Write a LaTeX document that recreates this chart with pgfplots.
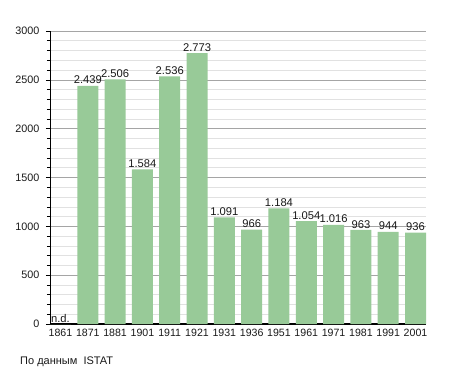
\documentclass[border=0pt]{standalone}
\usepackage{fontspec}
\setmainfont{Liberation Sans}
\usepackage{pgfplots}
\pgfplotsset{compat=1.18}
\usepackage{pgfplotstable}
\definecolor{bargreen}{RGB}{152,202,152}
\definecolor{majgrid}{RGB}{165,165,165}
\definecolor{mingrid}{RGB}{225,225,225}
\definecolor{txt}{RGB}{25,25,25}
\pgfplotstableread{
x y lab
0 0 n.d.
1 2439 2.439
2 2506 2.506
3 1584 1.584
4 2536 2.536
5 2773 2.773
6 1091 1.091
7 966 966
8 1184 1.184
9 1054 1.054
10 1016 1.016
11 963 963
12 944 944
13 936 936
}\data
\begin{document}
\begin{tikzpicture}[x=1pt,y=1pt]
\path[use as bounding box] (0,0) rectangle (455,373);
\begin{axis}[
  at={(50pt,49pt)}, anchor=south west,
  scale only axis, width=376pt, height=293pt,
  xmin=0, xmax=13.768, ymin=0, ymax=3000,
  axis x line*=bottom, axis y line*=left,
  x axis line style={black, line width=1.2pt},
  y axis line style={black, line width=0.8pt},
  xtick=data,
  xticklabels={1861,1871,1881,1901,1911,1921,1931,1936,1951,1961,1971,1981,1991,2001},
  x tick style={draw=none},
  ytick={0,500,...,3000},
  minor y tick num=4,
  ymajorgrids, yminorgrids,
  major grid style={majgrid, line width=0.6pt},
  minor grid style={mingrid, line width=0.6pt},
  tick align=outside,
  major tick length=4pt, minor tick length=3pt,
  y tick style={black, line width=0.6pt},
  /pgf/number format/assume math mode=true,
  /pgf/number format/1000 sep={},
  yticklabel style={font=\fontsize{10.8}{12}\selectfont, text=txt, xshift=-3pt},
  xticklabel style={font=\fontsize{10.6}{12}\selectfont, text=txt, yshift=2.5pt},
  clip=false,
]
\addplot[ybar, fill=bargreen, draw=none, bar width=0.768,
  nodes near coords, point meta=explicit symbolic,
  every node near coord/.append style={font=\fontsize{11.2}{12}\selectfont, text=txt, inner sep=1.5pt}]
  table[x expr=\thisrow{x}+0.384, y=y, meta=lab]{\data};
\end{axis}
\node[anchor=base west, font=\fontsize{11}{13}\selectfont, text=txt, inner sep=0] at (20,9) {По данным\ \ ISTAT};
\end{tikzpicture}
\end{document}
